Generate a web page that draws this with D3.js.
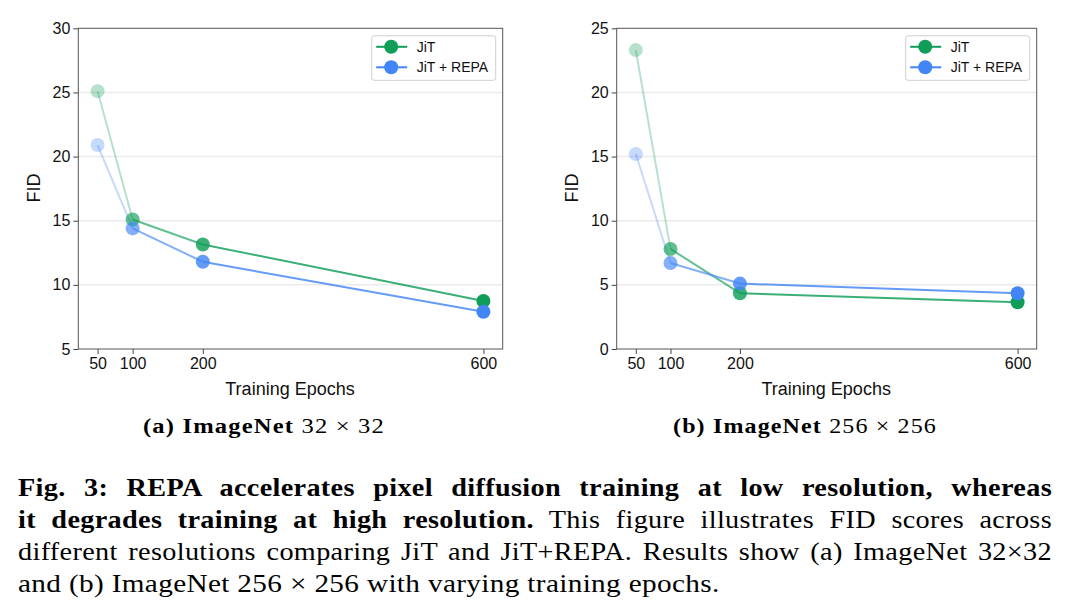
<!DOCTYPE html>
<html>
<head>
<meta charset="utf-8">
<script src="https://cdn.jsdelivr.net/npm/d3@7"></script>
<style>
  body { margin: 0; background: #fff; }
  svg { display: block; }
</style>
</head>
<body>
<svg id="fig" width="1069" height="615"></svg>
<script>
// data
var epochs = [50, 100, 200, 600];
var xTicks = [50, 100, 200, 600];

var fid32Jit = [25.1, 15.1, 13.15, 8.75];
var fid32Repa = [20.9, 14.4, 11.8, 7.9];
var yTicks32 = [5, 10, 15, 20, 25, 30];

var fid256Jit = [23.3, 7.8, 4.35, 3.65];
var fid256Repa = [15.2, 6.7, 5.1, 4.35];
var yTicks256 = [0, 5, 10, 15, 20, 25];

var seriesNames = ["JiT", "JiT + REPA"];
var subCaptions = [["(a) ImageNet", " 32 \u00d7 32"], ["(b) ImageNet", " 256 \u00d7 256"]];

var green = "#0f9d58", blue = "#4285f4";
var fade = [0.3, 0.65, 0.82, 1];

var svg = d3.select("#fig");
var sans = "'Liberation Sans', Arial, Helvetica, sans-serif";
var serif = "'Liberation Serif', 'Times New Roman', serif";

// serif text written at (x, y), stretched horizontally to a width
function wideText(parts, x, y, size, width, spacing) {
  var t = svg.append("text")
    .style("font-family", serif)
    .style("font-size", size + "px")
    .style("letter-spacing", spacing + "px")
    .attr("fill", "#000");
  parts.forEach(function(p) {
    t.append("tspan").attr("font-weight", p[1] ? "bold" : "normal").text(p[0]);
  });
  var natural = t.node().getComputedTextLength();
  t.attr("transform", "translate(" + x + "," + y + ") scale(" + (width / natural) + ",1)");
  return t;
}

function panel(opts) {
  var x = d3.scaleLinear().domain([22.5, 627.5]).range([opts.left, opts.right]);
  var y = d3.scaleLinear().domain(opts.yDomain).range([opts.bottom, opts.top]);
  var g = svg.append("g");

  // grid
  g.selectAll("line.grid")
    .data(opts.yTicks.slice(1, -1))
    .enter()
    .append("line")
    .attr("x1", opts.left).attr("x2", opts.right)
    .attr("y1", function(d) { return y(d); })
    .attr("y2", function(d) { return y(d); })
    .attr("stroke", "#ebebeb")
    .attr("stroke-width", 1.5);

  // axes
  var xAxis = d3.axisBottom(x).tickValues(xTicks).tickSize(5).tickPadding(4);
  var yAxis = d3.axisLeft(y).tickValues(opts.yTicks).tickSize(5).tickPadding(3);

  var gx = g.append("g")
    .attr("transform", "translate(0," + opts.bottom + ")")
    .call(xAxis);
  var gy = g.append("g")
    .attr("transform", "translate(" + opts.left + ",0)")
    .call(yAxis);
  [gx, gy].forEach(function(a) {
    a.select(".domain").remove();
    a.selectAll("line").attr("stroke", "#444");
    a.selectAll("text")
      .attr("fill", "#111")
      .style("font-family", sans)
      .style("font-size", "16px");
  });

  // frame
  g.append("rect")
    .attr("x", opts.left).attr("y", opts.top)
    .attr("width", opts.right - opts.left)
    .attr("height", opts.bottom - opts.top)
    .attr("fill", "none")
    .attr("stroke", "#555")
    .attr("stroke-width", 1);

  // series
  opts.series.forEach(function(s) {
    for (var i = 0; i < epochs.length - 1; i++) {
      g.append("line")
        .attr("x1", x(epochs[i])).attr("y1", y(s.values[i]))
        .attr("x2", x(epochs[i + 1])).attr("y2", y(s.values[i + 1]))
        .attr("stroke", s.color)
        .attr("stroke-opacity", fade[i])
        .attr("stroke-width", 2);
    }
  });
  opts.series.forEach(function(s) {
    g.selectAll(null)
      .data(s.values)
      .enter()
      .append("circle")
      .attr("cx", function(d, i) { return x(epochs[i]); })
      .attr("cy", function(d) { return y(d); })
      .attr("r", 7)
      .attr("fill", s.color)
      .attr("fill-opacity", function(d, i) { return fade[i]; });
  });

  // labels
  g.append("text")
    .attr("x", (opts.left + opts.right) / 2 - 0.5)
    .attr("y", 395)
    .attr("text-anchor", "middle")
    .style("font-family", sans)
    .style("font-size", "18px")
    .attr("fill", "#111")
    .text("Training Epochs");
  g.append("text")
    .attr("transform", "translate(" + (opts.left - 38.5) + ",188) rotate(-90)")
    .attr("text-anchor", "middle")
    .style("font-family", sans)
    .style("font-size", "18px")
    .attr("fill", "#111")
    .text("FID");

  // legend
  var lx = opts.right - 131, ly = opts.top + 7.5;
  g.append("rect")
    .attr("x", lx).attr("y", ly)
    .attr("width", 124).attr("height", 44.5)
    .attr("rx", 2.5)
    .attr("fill", "#fff")
    .attr("stroke", "#cfcfcf")
    .attr("stroke-width", 1);
  opts.series.forEach(function(s, i) {
    var yy = ly + 11 + i * 20.5;
    g.append("line")
      .attr("x1", lx + 4.5).attr("x2", lx + 35.5)
      .attr("y1", yy).attr("y2", yy)
      .attr("stroke", s.color).attr("stroke-width", 2);
    g.append("circle")
      .attr("cx", lx + 19.5).attr("cy", yy).attr("r", 7)
      .attr("fill", s.color);
    g.append("text")
      .attr("x", lx + 45).attr("y", yy + 5)
      .style("font-family", sans)
      .style("font-size", "14px")
      .attr("fill", "#111")
      .text(s.name);
  });

  // sub caption
  wideText([[opts.caption[0], true], [opts.caption[1], false]],
    opts.capLeft, 433, 21, opts.capWidth, 1);
}

panel({
  left: 78.3, right: 502.7, top: 28.3, bottom: 349,
  yDomain: [5, 30], yTicks: yTicks32,
  series: [
    { name: seriesNames[0], values: fid32Jit, color: green },
    { name: seriesNames[1], values: fid32Repa, color: blue }
  ],
  caption: subCaptions[0], capLeft: 143, capWidth: 242
});

panel({
  left: 616.7, right: 1036.7, top: 28.3, bottom: 349,
  yDomain: [0, 25], yTicks: yTicks256,
  series: [
    { name: seriesNames[0], values: fid256Jit, color: green },
    { name: seriesNames[1], values: fid256Repa, color: blue }
  ],
  caption: subCaptions[1], capLeft: 673, capWidth: 264
});

// figure caption, justified like the LaTeX original
var captionLines = [
  { parts: [["Fig. 3: REPA accelerates pixel diffusion training at low resolution, whereas", true]], justify: true },
  { parts: [["it degrades training at high resolution.", true], [" This figure illustrates FID scores across", false]], justify: true },
  { parts: [["different resolutions comparing JiT and JiT+REPA. Results show (a) ImageNet 32\u00d732", false]], justify: true },
  { parts: [["and (b) ImageNet 256 \u00d7 256 with varying training epochs.", false]], justify: false }
];

var capLeft = 18, capRight = 1052, stretch = 1.13;
captionLines.forEach(function(line, i) {
  var y = 496 + i * 32;
  if (!line.justify) {
    wideText(line.parts, capLeft, y, 25, 702, 0.3);
    return;
  }
  var t = svg.append("text")
    .style("font-family", serif)
    .style("font-size", "25px")
    .style("letter-spacing", "0.3px")
    .attr("fill", "#000")
    .attr("transform", "translate(" + capLeft + "," + y + ") scale(" + stretch + ",1)");
  line.parts.forEach(function(p) {
    t.append("tspan").attr("font-weight", p[1] ? "bold" : "normal").text(p[0]);
  });
  var natural = t.node().getComputedTextLength();
  var spaces = t.text().split(" ").length - 1;
  var target = (capRight - capLeft) / stretch;
  t.style("word-spacing", Math.max(0, (target - natural) / spaces) + "px");
  if (natural > target) {
    t.attr("transform", "translate(" + capLeft + "," + y + ") scale(" + ((capRight - capLeft) / natural) + ",1)");
  }
});
</script>
</body>
</html>
